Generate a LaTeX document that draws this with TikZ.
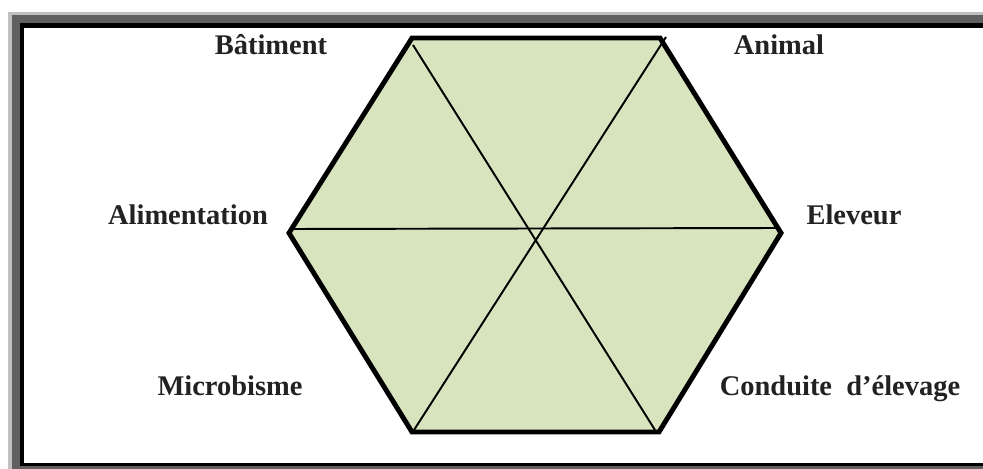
\documentclass[tikz,border=0pt]{standalone}
\usepackage{fontspec}
\setmainfont{Liberation Serif}
\usepackage{xcolor}
\definecolor{FrameLight}{HTML}{C0C0C0}
\definecolor{FrameDark}{HTML}{606060}
\definecolor{HexFill}{HTML}{D7E4BD}
\definecolor{LabelText}{HTML}{222222}

\begin{document}
\begin{tikzpicture}[
    x=0.02cm, y=-0.02cm,
    hexborder/.style={draw=black, fill=HexFill, line width=2.8pt, line join=miter},
    spoke/.style={draw=black, line width=1.1pt},
    label/.style={font=\fontsize{16.2}{19}\selectfont\bfseries, text=LabelText, anchor=base, inner sep=0pt}
]
\useasboundingbox (0,0) rectangle (983,469);
\clip (0,0) rectangle (983,469);

% frame
\fill[white] (0,0) rectangle (983,469);
\fill[FrameLight] (8,12) rectangle (1100,600);
\fill[FrameDark] (12,15) rectangle (1100,600);
\fill[black] (20,23) rectangle (1100,466);
\fill[white] (24,28) rectangle (1100,463);

% hexagon corners
\coordinate (tl) at (412,38);
\coordinate (tr) at (660,38);
\coordinate (r) at (781,233);
\coordinate (br) at (659,432);
\coordinate (bl) at (412,432);
\coordinate (l) at (289,233);

\draw[hexborder] (tl) -- (tr) -- (r) -- (br) -- (bl) -- (l) -- cycle;

% spoke ends
\coordinate (tlin) at (413,45);
\coordinate (brin) at (655,430);
\coordinate (trin) at (666,37);
\coordinate (blin) at (414,430);
\coordinate (lin) at (290,229);
\coordinate (rin) at (780,228);

\draw[spoke] (tlin) -- (brin);
\draw[spoke] (trin) -- (blin);
\draw[spoke] (lin) -- (rin);

\node[label] (batiment) at (271,55) {Bâtiment};
\node[label] (animal) at (779,55) {Animal};
\node[label] (alimentation) at (188,225) {Alimentation};
\node[label] (eleveur) at (854,225) {Eleveur};
\node[label] (microbisme) at (230,395) {Microbisme};
\node[label] (conduite) at (840,395) {Conduite\ \ d’élevage};

\end{tikzpicture}
\end{document}
